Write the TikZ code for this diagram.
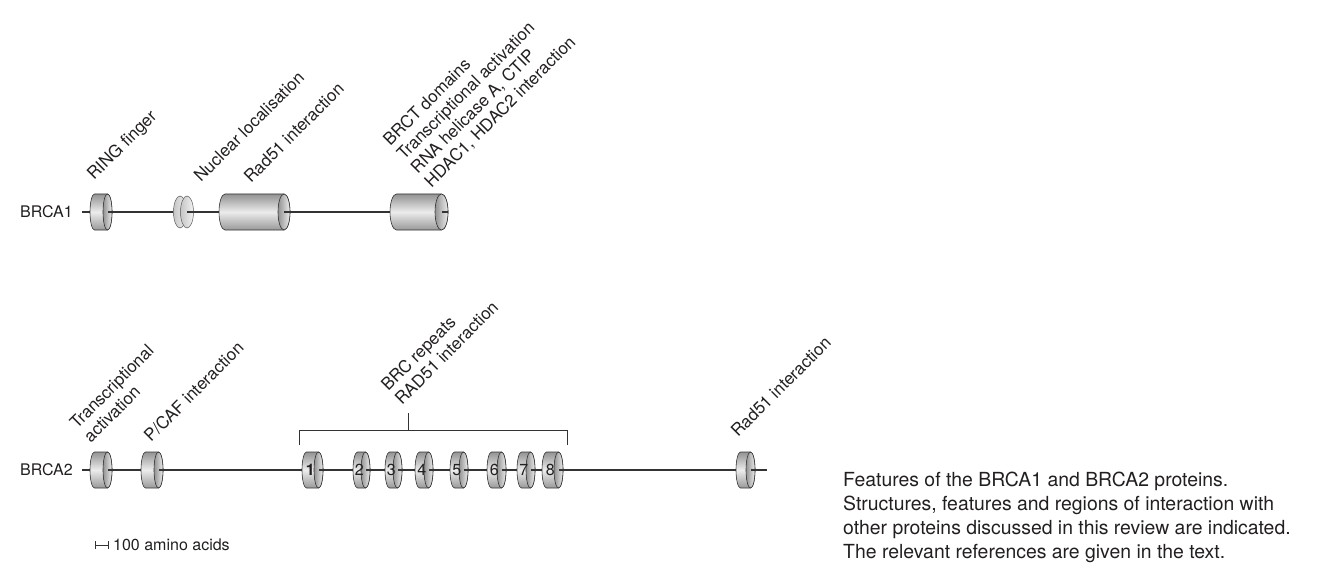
\documentclass[tikz,border=0pt]{standalone}
\usepackage{fontspec}
\setmainfont{TeX Gyre Heros}
\definecolor{ink}{HTML}{231F20}
\definecolor{lineclr}{HTML}{333333}
\newcommand{\labelfont}{\fontsize{17}{19.5}\selectfont}
\newcommand{\namefont}{\fontsize{16}{19}\selectfont}
\tikzset{
	backbone/.style={draw=lineclr, line width=1.4pt},
	cylbody/.style={draw=lineclr, line width=0.6pt, top color=gray!85, bottom color=gray!80, middle color=gray!15},
	cylface/.style={draw=lineclr, line width=0.6pt, left color=gray!85, right color=gray!15},
	disc/.style={draw=lineclr!80, line width=0.5pt, left color=gray!45, right color=gray!10},
	bracket/.style={draw=lineclr, line width=0.8pt},
	feature/.style={rotate=45, inner sep=0pt, font=\labelfont, text=ink},
	protein/.style={inner sep=0pt, font=\namefont, text=ink}
}
% left, right, centre y, face radius, number
\newcommand{\domaincyl}[5]{%
	\path[cylbody] ({#1+#4},{#3-18}) -- ({#2-#4},{#3-18})
		arc[start angle=-90, end angle=90, x radius=#4, y radius=18]
		-- ({#1+#4},{#3+18})
		arc[start angle=90, end angle=270, x radius=#4, y radius=18] -- cycle;
	\path[cylface] ({#2-#4},#3) ellipse[x radius=#4, y radius=18];
	\draw[backbone] ({#2-#4},#3) -- (#2,#3);
	\node[protein] at ({(#1+#2-#4)/2},#3) {#5};
}
\begin{document}
\begin{tikzpicture}[x=1pt, y=-1pt]
	\useasboundingbox (0,0) rectangle (1319,588);

	% BRCA1
	\node[protein, anchor=east] (brca1) at (73,212) {BRCA1};
	\coordinate (b1s) at (82,212);
	\coordinate (b1e) at (390,212);
	\draw[backbone] (b1s) -- (b1e);
	\domaincyl{90}{112}{212}{4.5}{}
	\path[disc] (180,212) ellipse[x radius=6.5, y radius=16];
	\path[disc] (187,212) ellipse[x radius=6.5, y radius=16];
	\draw[backbone] (187,212) -- (194,212);
	\domaincyl{219}{290}{212}{6}{}
	\domaincyl{390}{448}{212}{6.5}{}

	\node[feature, anchor=base west] (ring) at (94,181) {RING finger};
	\node[feature, anchor=base west] (nls) at (201,183) {Nuclear localisation};
	\node[feature, anchor=base west] (rad51a) at (251,184) {Rad51 interaction};
	\node[feature, anchor=north west, align=left] (brct) at (381,138)
		{BRCT domains\\Transcriptional activation\\RNA helicase A, CTIP\\HDAC1, HDAC2 interaction};

	% BRCA2
	\node[protein, anchor=east] (brca2) at (73,470) {BRCA2};
	\coordinate (b2s) at (82,470);
	\coordinate (b2e) at (767,470);
	\draw[backbone] (b2s) -- (b2e);
	\domaincyl{90}{112}{470}{4.5}{}
	\domaincyl{141}{163}{470}{4.5}{}
	\domaincyl{302}{323}{470}{4.5}{\bfseries 1}
	\domaincyl{353}{370}{470}{4.5}{2}
	\domaincyl{385}{402}{470}{4.5}{3}
	\domaincyl{415}{433}{470}{4.5}{4}
	\domaincyl{450}{468}{470}{4.5}{5}
	\domaincyl{487}{506}{470}{4.5}{6}
	\domaincyl{517}{535}{470}{4.5}{7}
	\domaincyl{542}{563}{470}{4.5}{8}
	\domaincyl{736}{755}{470}{4.5}{}

	\node[feature, anchor=north west, align=left] (transact) at (68,421) {Transcriptional\\activation};
	\node[feature, anchor=base west] (pcaf) at (151,443) {P/CAF interaction};
	\node[feature, anchor=north west, align=left] (brc) at (379,383) {BRC repeats\\RAD51 interaction};
	\node[feature, anchor=base west] (rad51b) at (738,438) {Rad51 interaction};

	% bracket over the BRC repeats
	\coordinate (brcl) at (299,445);
	\coordinate (brcr) at (567,445);
	\coordinate (brcm) at (408,430);
	\draw[bracket] (brcl) |- (567,430) -- (brcr);
	\draw[bracket] (brcm) -- (408,413);

	% scale
	\coordinate (sl) at (95,545);
	\coordinate (sr) at (108,545);
	\draw[bracket] (95,541) -- (95,549) (sl) -- (sr) (108,541) -- (108,549);
	\node[protein, anchor=west] (scale) at (113,545) {100 amino acids};

	% caption
	\node[anchor=north west, align=left, inner sep=0pt, text=ink,
		font=\fontsize{19.4}{24}\selectfont] (caption) at (843,472)
		{Features of the BRCA1 and BRCA2 proteins.\\
		Structures, features and regions of interaction with\\
		other proteins discussed in this review are indicated.\\
		The relevant references are given in the text.};
\end{tikzpicture}
\end{document}
